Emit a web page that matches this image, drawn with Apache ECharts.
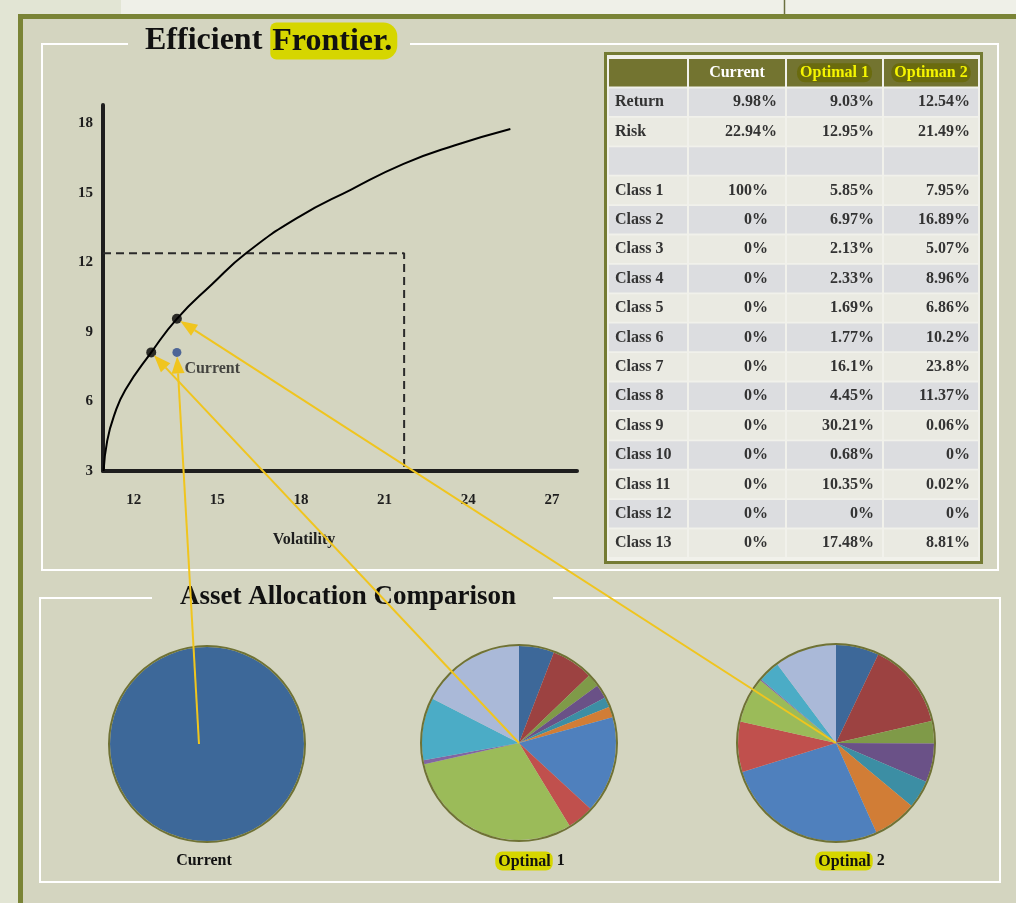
<!DOCTYPE html>
<html>
<head>
<meta charset="utf-8">
<title>Efficient Frontier</title>
<script src="https://cdn.jsdelivr.net/npm/echarts@6/dist/echarts.min.js"></script>
<style>
    html, body { margin: 0; padding: 0; background: #d4d5c0; }
    #main { width: 1016px; height: 903px; }
</style>
</head>
<body>
<div id="main"></div>
<script>
    // frontier curve (volatility / return)
    var frontierRisk = [10.92, 11.05, 11.3, 11.7, 12.63, 13.55, 14.8, 16.05, 17.9, 19.8, 21.68, 23.5, 25.51];
    var frontierReturn = [3.0, 4.3, 5.4, 6.5, 8.12, 9.57, 11.05, 12.42, 13.95, 15.15, 16.26, 17.05, 17.76];

    // points on the frontier (optimal 1, optimal 2) and the current portfolio
    var optimalRisk = [12.63, 13.55];
    var optimalReturn = [8.12, 9.57];
    var currentRisk = [13.55];
    var currentReturn = [8.12];

    // dashed guide box
    var boxRisk = [10.9, 21.7, 21.7];
    var boxReturn = [12.4, 12.4, 3];

    var xTicks = [12, 15, 18, 21, 24, 27];
    var yTicks = [3, 6, 9, 12, 15, 18];

    // table
    var classNames = ['Class 1', 'Class 2', 'Class 3', 'Class 4', 'Class 5', 'Class 6', 'Class 7',
        'Class 8', 'Class 9', 'Class 10', 'Class 11', 'Class 12', 'Class 13'];
    var portfolioNames = ['Current', 'Optimal 1', 'Optiman 2'];
    var returnVals = [9.98, 9.03, 12.54];
    var riskVals = [22.94, 12.95, 21.49];
    var currentAlloc = [100, 0, 0, 0, 0, 0, 0, 0, 0, 0, 0, 0, 0];
    var optimal1Alloc = [5.85, 6.97, 2.13, 2.33, 1.69, 1.77, 16.1, 4.45, 30.21, 0.68, 10.35, 0, 17.48];
    var optimal2Alloc = [7.95, 16.89, 5.07, 8.96, 6.86, 10.2, 23.8, 11.37, 0.06, 0, 0.02, 0, 8.81];

    // the Optimal 2 pie in the picture is not drawn from the table, these are its slices
    var optimal2Pie = [7.1, 14.3, 3.7, 6.4, 4.6, 7.2, 27.0, 8.3, 7.5, 0.2, 3.6, 0, 10.2];

    var pieTitles = ['Current', 'Optinal 1', 'Optinal 2'];

    var classColors = ['#3d6899', '#9c4241', '#7f9a48', '#6a5187', '#3c8ea4', '#d17d36', '#4f80bd',
        '#c0504d', '#9bbb59', '#8165a2', '#4bacc6', '#f79646', '#aab9d8'];

    var FONT = '"Liberation Serif", "DejaVu Serif", serif';
    var pieCenters = [[207, 744], [519, 743], [836, 743]];
    var pieRadius = [97, 97, 98];
    var captionX = [204, 530, 850];

    var zip = function (a, b) {
        return a.map(function (v, i) { return [v, b[i]]; });
    };

    var pieSeries = function (values, idx) {
        return {
            type: 'pie',
            center: pieCenters[idx],
            radius: pieRadius[idx],
            startAngle: 90,
            silent: true,
            animation: false,
            label: { show: false },
            labelLine: { show: false },
            itemStyle: { borderWidth: 0 },
            data: values.map(function (v, i) {
                return { name: classNames[i], value: v, itemStyle: { color: classColors[i] } };
            })
        };
    };

    var ringSeries = function (idx) {
        return {
            type: 'pie',
            center: pieCenters[idx],
            radius: [pieRadius[idx], pieRadius[idx] + 2],
            silent: true,
            animation: false,
            label: { show: false },
            data: [{ value: 1, itemStyle: { color: '#6f7235' } }]
        };
    };

    var axisText = { color: '#1e1e1e', fontFamily: FONT, fontWeight: 'bold', fontSize: 15 };

    var chart = echarts.init(document.getElementById('main'));

    var option = {
        backgroundColor: '#d4d5c0',
        animation: false,
        grid: { left: 103, top: 105, width: 474, height: 366, outerBoundsMode: 'none' },
        xAxis: {
            type: 'value',
            min: 10.9,
            max: 27.9,
            axisLine: { show: true, onZero: false, lineStyle: { color: '#1e1e1e', width: 4 } },
            axisTick: { show: false },
            splitLine: { show: false },
            axisLabel: Object.assign({ customValues: xTicks, margin: 22 }, axisText),
            name: 'Volatility',
            nameLocation: 'middle',
            nameGap: 61,
            nameTextStyle: {
                color: '#1e1e1e', fontFamily: FONT, fontWeight: 'bold', fontSize: 16,
                padding: [0, 72, 0, 0]
            }
        },
        yAxis: {
            type: 'value',
            min: 3,
            max: 18.8,
            axisLine: { show: true, onZero: false, lineStyle: { color: '#1e1e1e', width: 4 } },
            axisTick: { show: false },
            splitLine: { show: false },
            axisLabel: Object.assign({ customValues: yTicks, margin: 10, padding: [6, 0, 0, 0] }, axisText)
        },
        series: [
            {
                type: 'line',
                data: zip(frontierRisk, frontierReturn),
                smooth: 0.5,
                showSymbol: false,
                silent: true,
                lineStyle: { color: '#000', width: 2 },
                z: 3
            },
            {
                type: 'line',
                data: zip(boxRisk, boxReturn),
                showSymbol: false,
                silent: true,
                lineStyle: { color: '#2a2a2a', width: 2, type: [8, 5] },
                z: 2
            },
            {
                type: 'scatter',
                data: zip(optimalRisk, optimalReturn),
                symbolSize: 10,
                silent: true,
                itemStyle: { color: '#000' },
                z: 4
            },
            {
                type: 'scatter',
                data: zip(currentRisk, currentReturn),
                symbolSize: 9,
                silent: true,
                itemStyle: { color: '#2c4a8c' },
                label: {
                    show: true,
                    formatter: 'Current',
                    position: [12, 13],
                    color: '#1e1e1e',
                    fontFamily: FONT,
                    fontWeight: 'bold',
                    fontSize: 16
                },
                z: 4
            },
            pieSeries(currentAlloc, 0),
            pieSeries(optimal1Alloc, 1),
            pieSeries(optimal2Pie, 2),
            ringSeries(0),
            ringSeries(1),
            ringSeries(2)
        ]
    };

    chart.setOption(option);

    // ---- decorations, table, titles and arrows ----
    var g = [];

    g.push({ type: 'rect', shape: { x: 0, y: 0, width: 19, height: 903 }, style: { fill: '#e2e5d4' }, silent: true });
    g.push({ type: 'rect', shape: { x: 0, y: 0, width: 121, height: 16 }, style: { fill: '#e2e5d4' }, silent: true });
    g.push({ type: 'rect', shape: { x: 121, y: 0, width: 895, height: 16 }, style: { fill: '#eff0e8' }, silent: true });
    g.push({ type: 'line', shape: { x1: 784.5, y1: 0, x2: 784.5, y2: 15 }, style: { stroke: '#6b7040', lineWidth: 1.5 }, silent: true });
    g.push({
        type: 'polyline', shape: { points: [[20.5, 910], [20.5, 16.5], [1020, 16.5]] },
        style: { stroke: '#7a8436', lineWidth: 5, fill: null }, silent: true
    });

    // white panel outlines, open where the titles sit
    g.push({
        type: 'polyline', shape: { points: [[128, 44], [42, 44], [42, 570], [998, 570], [998, 44], [410, 44]] },
        style: { stroke: '#ffffff', lineWidth: 2, fill: null }, silent: true
    });
    g.push({
        type: 'polyline', shape: { points: [[152, 598], [40, 598], [40, 882], [1000, 882], [1000, 598], [553, 598]] },
        style: { stroke: '#ffffff', lineWidth: 2, fill: null }, silent: true
    });

    g.push({
        type: 'text', x: 145, y: 41, silent: true, z: 10,
        style: {
            text: '{a|Efficient }{hl|Frontier.}',
            verticalAlign: 'middle',
            rich: {
                a: { fontFamily: FONT, fontWeight: 'bold', fontSize: 32, fill: '#111' },
                hl: {
                    fontFamily: FONT, fontWeight: 'bold', fontSize: 32, fill: '#111',
                    backgroundColor: '#d6d600', borderRadius: [6, 14, 14, 6], padding: [3, 5, 2, 2]
                }
            }
        }
    });
    g.push({
        type: 'text', x: 348, y: 597, silent: true, z: 10,
        style: {
            text: 'Asset Allocation Comparison', fontFamily: FONT, fontWeight: 'bold', fontSize: 27,
            fill: '#111', align: 'center', verticalAlign: 'middle'
        }
    });

    // pie captions
    pieTitles.forEach(function (t, i) {
        var parts = t.split(' ');
        var txt = parts.length > 1 ? '{hl|' + parts[0] + '}{a| ' + parts[1] + '}' : '{a|' + t + '}';
        g.push({
            type: 'text', x: captionX[i], y: 861, silent: true, z: 10,
            style: {
                text: txt, align: 'center', verticalAlign: 'middle',
                rich: {
                    a: { fontFamily: FONT, fontWeight: 'bold', fontSize: 16, fill: '#111' },
                    hl: {
                        fontFamily: FONT, fontWeight: 'bold', fontSize: 16, fill: '#111',
                        backgroundColor: '#d6d600', borderRadius: 7, padding: [2, 2, 1, 3]
                    }
                }
            }
        });
    });

    // table
    var colX = [609, 689, 787, 884];
    var colW = [78, 96, 95, 94];
    var rowTop = 59, rowH = 29.4, cellH = 27.6;
    var pct = function (v) { return v + '%'; };

    g.push({
        type: 'rect', shape: { x: 605.5, y: 53.5, width: 376, height: 509 },
        style: { fill: '#f1f1eb', stroke: '#747b33', lineWidth: 3 }, silent: true, z: 5
    });

    var rows = [{ label: 'Return', vals: returnVals }, { label: 'Risk', vals: riskVals }, { label: '', vals: null }];
    classNames.forEach(function (name, i) {
        rows.push({ label: name, vals: [currentAlloc[i], optimal1Alloc[i], optimal2Alloc[i]], cls: true });
    });

    // header
    colX.forEach(function (x, c) {
        g.push({
            type: 'rect', shape: { x: x, y: rowTop, width: colW[c], height: cellH },
            style: { fill: '#737430' }, silent: true, z: 6
        });
        if (c === 0) return;
        var name = portfolioNames[c - 1];
        g.push({
            type: 'text', x: x + colW[c] / 2, y: rowTop + cellH / 2, silent: true, z: 7,
            style: {
                text: c === 1 ? '{w|' + name + '}' : '{hl|' + name + '}',
                align: 'center', verticalAlign: 'middle',
                rich: {
                    w: { fontFamily: FONT, fontWeight: 'bold', fontSize: 16, fill: '#ffffff' },
                    hl: {
                        fontFamily: FONT, fontWeight: 'bold', fontSize: 16, fill: '#f5f500',
                        backgroundColor: '#6a6b0e', borderRadius: 8, padding: [2, 3, 1, 3]
                    }
                }
            }
        });
    });

    rows.forEach(function (row, r) {
        var y = rowTop + (r + 1) * rowH;
        var fill = r % 2 === 0 ? '#dcdde0' : '#eaeae2';
        colX.forEach(function (x, c) {
            g.push({
                type: 'rect', shape: { x: x, y: y, width: colW[c], height: cellH },
                style: { fill: fill }, silent: true, z: 6
            });
        });
        var cy = y + cellH / 2;
        var txtStyle = { fontFamily: FONT, fontWeight: 'bold', fontSize: 16, fill: '#333', verticalAlign: 'middle' };
        if (row.label) {
            g.push({
                type: 'text', x: 615, y: cy, silent: true, z: 7,
                style: Object.assign({ text: row.label, align: 'left' }, txtStyle)
            });
        }
        if (!row.vals) return;
        row.vals.forEach(function (v, c) {
            var right = colX[c + 1] + colW[c + 1] - 8;
            if (c === 0 && row.cls) right -= 9;
            g.push({
                type: 'text', x: right, y: cy, silent: true, z: 7,
                style: Object.assign({ text: pct(v), align: 'right' }, txtStyle)
            });
        });
    });

    // arrows from each pie to its point on the chart
    var arrowColor = '#f0c51e';
    var arrow = function (from, to) {
        var dx = to[0] - from[0], dy = to[1] - from[1];
        var len = Math.sqrt(dx * dx + dy * dy);
        var ux = dx / len, uy = dy / len;
        var tip = [to[0] - ux * 4, to[1] - uy * 4];
        var base = [tip[0] - ux * 17, tip[1] - uy * 17];
        var nx = -uy * 6.5, ny = ux * 6.5;
        g.push({
            type: 'line', shape: { x1: from[0], y1: from[1], x2: base[0], y2: base[1] },
            style: { stroke: arrowColor, lineWidth: 2 }, silent: true, z: 50
        });
        g.push({
            type: 'polygon',
            shape: { points: [tip, [base[0] + nx, base[1] + ny], [base[0] - nx, base[1] - ny]] },
            style: { fill: arrowColor }, silent: true, z: 50
        });
    };

    var curPt = chart.convertToPixel({ seriesIndex: 3 }, [currentRisk[0], currentReturn[0]]);
    var opt1Pt = chart.convertToPixel({ seriesIndex: 2 }, [optimalRisk[0], optimalReturn[0]]);
    var opt2Pt = chart.convertToPixel({ seriesIndex: 2 }, [optimalRisk[1], optimalReturn[1]]);

    arrow([pieCenters[0][0] - 8, pieCenters[0][1]], curPt);
    arrow(pieCenters[1], opt1Pt);
    arrow(pieCenters[2], opt2Pt);

    chart.setOption({ graphic: g });
</script>
</body>
</html>
